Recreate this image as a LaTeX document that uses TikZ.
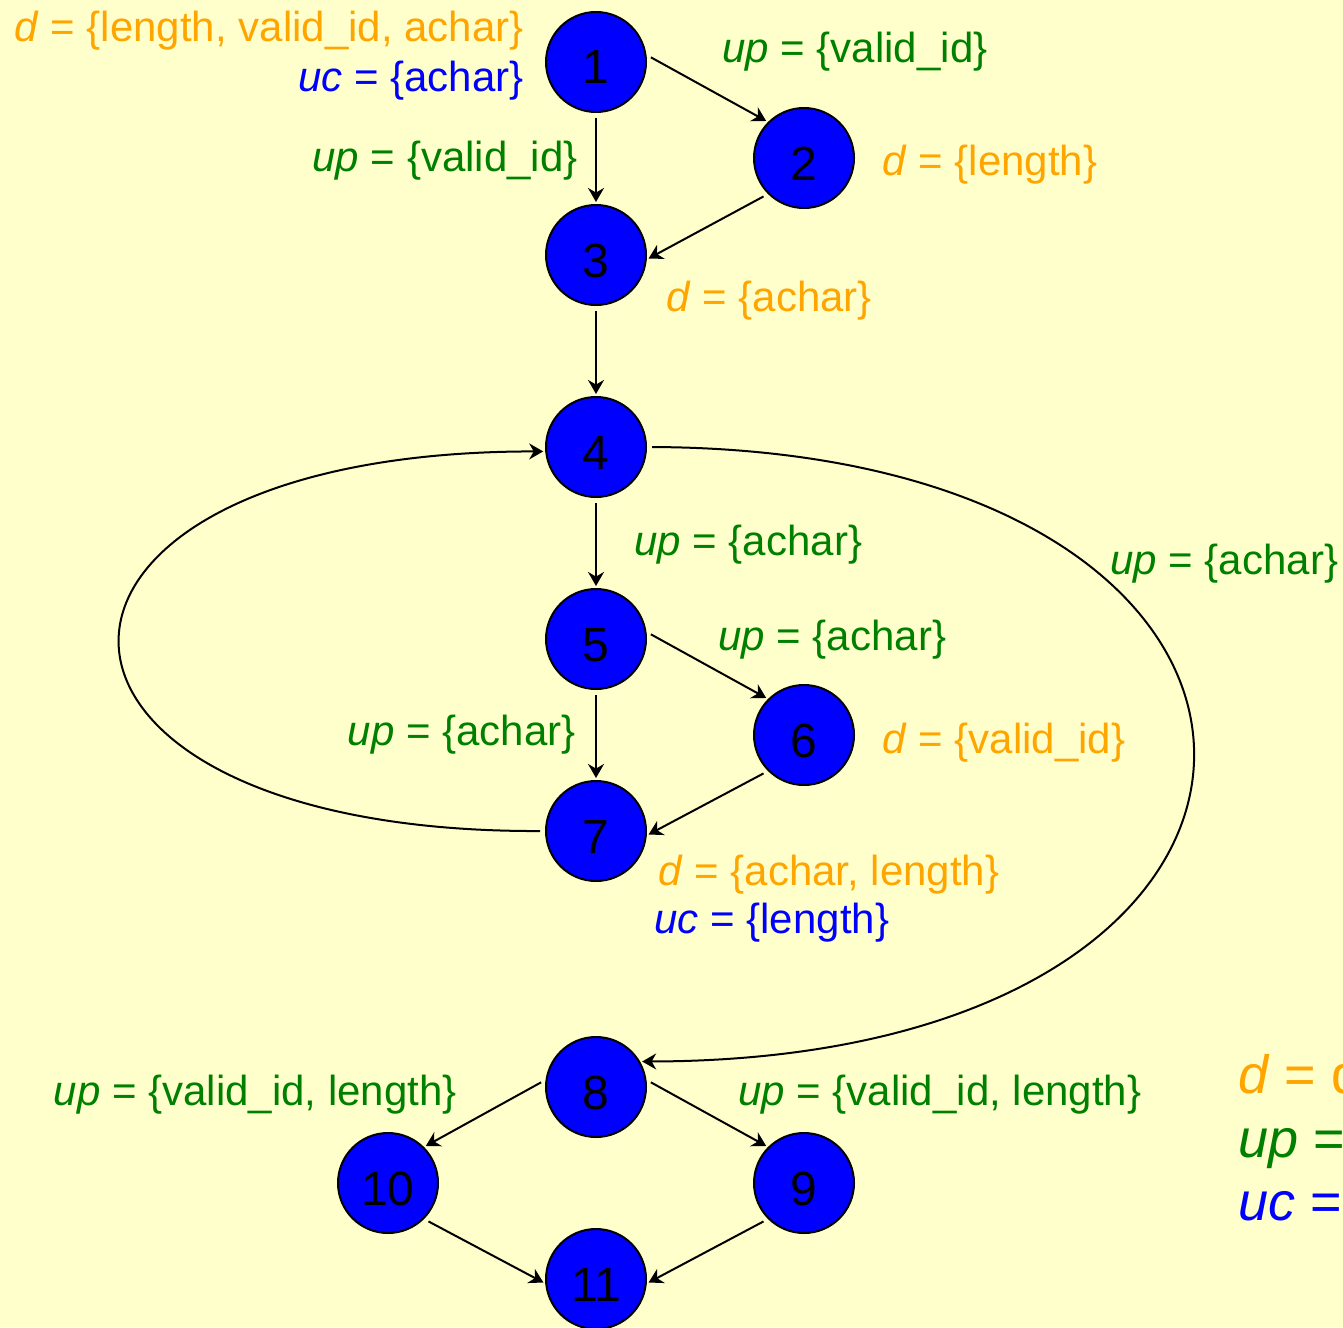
\documentclass[tikz,border=0pt]{standalone}
\usepackage{fontspec}
\setmainfont{Liberation Sans}
\usetikzlibrary{arrows.meta}

\begin{document}
\begin{tikzpicture}[x=0.5pt,y=-0.5pt,
    vertex/.style={circle,draw=borderColour,fill=fillColourNode,line width=1pt,
        minimum size=50pt,inner sep=0pt,text height=22pt,text depth=0pt,
        font=\fontsize{24}{24}\selectfont},
    edge/.style={draw=borderColour,line width=1pt,-{Stealth[length=7pt,width=8pt]},
        shorten >=1pt,shorten <=2.5pt},
    lbl/.style={inner sep=0pt,font=\fontsize{21}{25}\selectfont},
    defLbl/.style={lbl,text=defColour},
    predLbl/.style={lbl,text=predColour},
    compLbl/.style={lbl,text=compColour},
    keyLbl/.style={inner sep=0pt,anchor=base west,font=\fontsize{27}{32}\selectfont}]
    \definecolor{borderColour}{HTML}{000000}
    \definecolor{fillColourNode}{HTML}{0000FF}
    \definecolor{backColour}{HTML}{FFFFCC}
    \definecolor{defColour}{HTML}{FFA500}
    \definecolor{predColour}{HTML}{008000}
    \definecolor{compColour}{HTML}{0000FF}

    % Page and background
    \useasboundingbox (0,0) rectangle (1343,1327);
    \fill[backColour] (0,0) rectangle (1343,1327);

    % Draw nodes
    \foreach \n/\x/\y in {1/596/62, 2/804/158, 3/596/255, 4/596/447, 5/596/639,
        6/804/735, 7/596/831, 8/596/1087, 9/804/1183, 10/388/1183, 11/596/1279}
        \node[vertex] (n\n) at (\x,\y) {\n};

    % Straight edges
    \draw[edge] (n1.8) -- (n2.north west);
    \draw[edge] (n1) -- (n3);
    \draw[edge] (n2.south west) -- (n3.-5);
    \draw[edge] (n3) -- (n4);
    \draw[edge] (n4) -- (n5);
    \draw[edge] (n5.8) -- (n6.north west);
    \draw[edge] (n5) -- (n7);
    \draw[edge] (n6.south west) -- (n7.-5);
    \draw[edge] (n8.8) -- (n9.north west);
    \draw[edge] (n8.172) -- (n10.north east);
    \draw[edge] (n9.south west) -- (n11.-5);
    \draw[edge] (n10.south east) -- (n11.185);

    % Loop edges
    \draw[edge] (n7.west) .. controls (-21,833) and (-21,451) .. (n4.185);
    \draw[edge] (n4.east) .. controls (1375,450) and (1375,1060) .. (n8.30);

    % Labels of node 1
    \node[defLbl,anchor=base east] (d1) at (524,42) {\textit{d} = \{length, valid\_id, achar\}};
    \node[compLbl,anchor=base east] (uc1) at (524,91) {\textit{uc} = \{achar\}};

    % Labels of edges
    \node[predLbl,anchor=base west] (up12) at (722,63) {\textit{up} = \{valid\_id\}};
    \node[predLbl,anchor=base east] (up13) at (578,171) {\textit{up} = \{valid\_id\}};
    \node[predLbl,anchor=base west] (up45) at (634,555) {\textit{up} = \{achar\}};
    \node[predLbl,anchor=base west] (up48) at (1110,574) {\textit{up} = \{achar\}};
    \node[predLbl,anchor=base west] (up56) at (718,650) {\textit{up} = \{achar\}};
    \node[predLbl,anchor=base east] (up57) at (576,745) {\textit{up} = \{achar\}};
    \node[predLbl,anchor=base east] (up810) at (457,1105) {\textit{up} = \{valid\_id, length\}};
    \node[predLbl,anchor=base west] (up89) at (738,1105) {\textit{up} = \{valid\_id, length\}};

    % Labels of nodes 2, 3, 6, 7
    \node[defLbl,anchor=base west] (d2) at (882,175) {\textit{d} = \{length\}};
    \node[defLbl,anchor=base west] (d3) at (666,311) {\textit{d} = \{achar\}};
    \node[defLbl,anchor=base west] (d6) at (882,753) {\textit{d} = \{valid\_id\}};
    \node[defLbl,anchor=base west] (d7) at (658,885) {\textit{d} = \{achar, length\}};
    \node[compLbl,anchor=base west] (uc7) at (654,933) {\textit{uc} = \{length\}};

    % Key (cut by the right edge, as in the reference)
    \node[keyLbl,text=defColour] (keyD) at (1238,1093) {\textit{d} = d};
    \node[keyLbl,text=predColour] (keyUp) at (1238,1157) {\textit{up} =};
    \node[keyLbl,text=compColour] (keyUc) at (1238,1220) {\textit{uc} =};

\end{tikzpicture}
\end{document}
